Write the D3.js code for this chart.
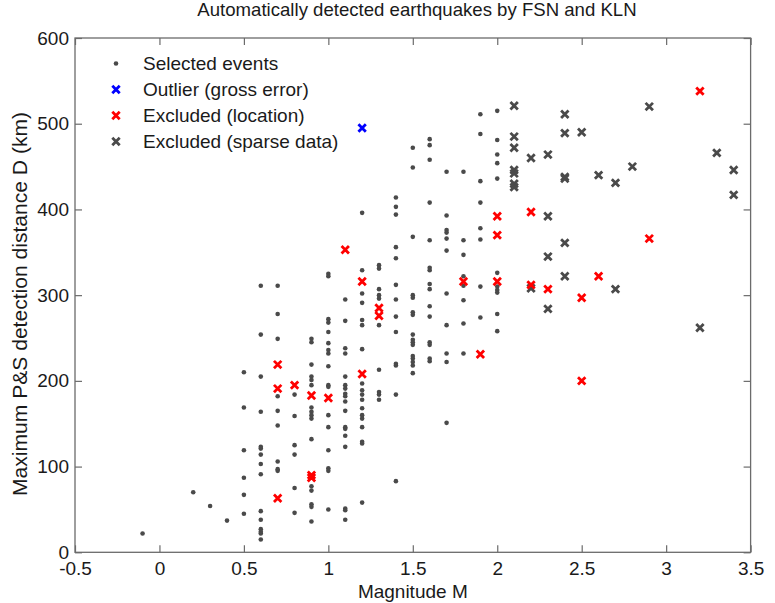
<!DOCTYPE html>
<html>
<head>
<meta charset="utf-8">
<script src="https://cdn.jsdelivr.net/npm/d3@7"></script>
<style>
    body { margin: 0; background: #fff; }
    text { font-family: Arial, "Liberation Sans", sans-serif; fill: #1a1a1a; }
</style>
</head>
<body>
<div id="chart"></div>
<script>
// [magnitude, max detection distance km]
var selectedEvents = [
    [-0.1, 22], [0.2, 70], [0.3, 54], [0.4, 37],
    [0.5, 210], [0.5, 169], [0.5, 119], [0.5, 87], [0.5, 67], [0.5, 45],
    [0.6, 311], [0.6, 254], [0.6, 205], [0.6, 164], [0.6, 123], [0.6, 121], [0.6, 114], [0.6, 103],
    [0.6, 91], [0.6, 48], [0.6, 38], [0.6, 27], [0.6, 24], [0.6, 22], [0.6, 15],
    [0.7, 311], [0.7, 278], [0.7, 249], [0.7, 182], [0.7, 165], [0.7, 148], [0.7, 106], [0.7, 97], [0.7, 95],
    [0.8, 184], [0.8, 159], [0.8, 125], [0.8, 114], [0.8, 75], [0.8, 46],
    [0.9, 249], [0.9, 245], [0.9, 219], [0.9, 205], [0.9, 201], [0.9, 195], [0.9, 169], [0.9, 164],
    [0.9, 160], [0.9, 156], [0.9, 132], [0.9, 77], [0.9, 72], [0.9, 56], [0.9, 53], [0.9, 36],
    [1.0, 325], [1.0, 322], [1.0, 272], [1.0, 268], [1.0, 257], [1.0, 244], [1.0, 236], [1.0, 232],
    [1.0, 217], [1.0, 195], [1.0, 193], [1.0, 160], [1.0, 146], [1.0, 119], [1.0, 98], [1.0, 95], [1.0, 50],
    [1.1, 295], [1.1, 270], [1.1, 238], [1.1, 232], [1.1, 205], [1.1, 195], [1.1, 191], [1.1, 185], [1.1, 182],
    [1.1, 176], [1.1, 165], [1.1, 146], [1.1, 144], [1.1, 136], [1.1, 123], [1.1, 51], [1.1, 49], [1.1, 38],
    [1.2, 396], [1.2, 329], [1.2, 302], [1.2, 291], [1.2, 271], [1.2, 265], [1.2, 237], [1.2, 197], [1.2, 189],
    [1.2, 184], [1.2, 178], [1.2, 168], [1.2, 160], [1.2, 156], [1.2, 146], [1.2, 129], [1.2, 127], [1.2, 58],
    [1.3, 335], [1.3, 331], [1.3, 307], [1.3, 300], [1.3, 296], [1.3, 265], [1.3, 213], [1.3, 187], [1.3, 184], [1.3, 178],
    [1.4, 414], [1.4, 403], [1.4, 394], [1.4, 356], [1.4, 343], [1.4, 312], [1.4, 295], [1.4, 275], [1.4, 257],
    [1.4, 220], [1.4, 218], [1.4, 184], [1.4, 83],
    [1.5, 472], [1.5, 449], [1.5, 368], [1.5, 300], [1.5, 297], [1.5, 280], [1.5, 277], [1.5, 254], [1.5, 248],
    [1.5, 245], [1.5, 242], [1.5, 229], [1.5, 226], [1.5, 222], [1.5, 218], [1.5, 209],
    [1.6, 482], [1.6, 475], [1.6, 458], [1.6, 408], [1.6, 364], [1.6, 332], [1.6, 329], [1.6, 313], [1.6, 307],
    [1.6, 287], [1.6, 275], [1.6, 245], [1.6, 242], [1.6, 226], [1.6, 223],
    [1.7, 444], [1.7, 393], [1.7, 376], [1.7, 373], [1.7, 366], [1.7, 352], [1.7, 302], [1.7, 265], [1.7, 232],
    [1.7, 222], [1.7, 151],
    [1.8, 444], [1.8, 364], [1.8, 347], [1.8, 322], [1.8, 311], [1.8, 294], [1.8, 267], [1.8, 232],
    [1.9, 511], [1.9, 488], [1.9, 433], [1.9, 408], [1.9, 378], [1.9, 365], [1.9, 310], [1.9, 274],
    [2.0, 515], [2.0, 481], [2.0, 464], [2.0, 454], [2.0, 436], [2.0, 326], [2.0, 310], [2.0, 306],
    [2.0, 303], [2.0, 278], [2.0, 258]
];
var outliers = [[1.2, 495]];
var excludedLocation = [
    [0.7, 219], [0.7, 191], [0.7, 63], [0.8, 195], [0.9, 183], [0.9, 90], [0.9, 87], [1.0, 180],
    [1.1, 353], [1.2, 316], [1.2, 208], [1.3, 285], [1.3, 276], [1.8, 316], [1.9, 231],
    [2.0, 392], [2.0, 370], [2.0, 316], [2.2, 397], [2.2, 312], [2.3, 307], [2.5, 297], [2.5, 200],
    [2.6, 322], [2.9, 366], [3.2, 538]
];
var excludedSparse = [
    [2.1, 521], [2.1, 485], [2.1, 472], [2.1, 446], [2.1, 442], [2.1, 430], [2.1, 426],
    [2.2, 460], [2.2, 308], [2.3, 464], [2.3, 392], [2.3, 345], [2.3, 284],
    [2.4, 511], [2.4, 489], [2.4, 438], [2.4, 436], [2.4, 361], [2.4, 322],
    [2.5, 490], [2.6, 440], [2.7, 431], [2.7, 307], [2.8, 450], [2.9, 520],
    [3.2, 262], [3.3, 466], [3.4, 446], [3.4, 417]
];
var xTicks = [-0.5, 0, 0.5, 1, 1.5, 2, 2.5, 3, 3.5];
var yTicks = [0, 100, 200, 300, 400, 500, 600];
var legendLabels = ["Selected events", "Outlier (gross error)", "Excluded (location)", "Excluded (sparse data)"];

var width = 775, height = 603;
var plotLeft = 75, plotRight = 750.6, plotTop = 38, plotBottom = 552.3;
var axisColor = "#6b6b6b", dotColor = "#4a4a4a";

var svg = d3.select("#chart").append("svg")
    .attr("width", width)
    .attr("height", height);

var x = d3.scaleLinear().domain([-0.5, 3.5]).range([plotLeft, plotRight]);
var y = d3.scaleLinear().domain([0, 600]).range([plotBottom, plotTop]);

// 坐标轴 (inward ticks on all four sides)
function styleAxis(g) {
    g.select(".domain").remove();
    g.selectAll(".tick line").attr("stroke", axisColor).attr("stroke-width", 1.2);
    g.selectAll(".tick text").attr("font-size", 19).attr("fill", "#1a1a1a")
        .attr("font-family", "Arial, 'Liberation Sans', sans-serif");
}
svg.append("g")
    .attr("transform", translate(0, plotBottom))
    .call(d3.axisBottom(x).tickValues(xTicks).tickSizeInner(-7).tickPadding(9).tickFormat(d => String(d)))
    .call(styleAxis);
svg.append("g")
    .attr("transform", translate(0, plotTop))
    .call(d3.axisTop(x).tickValues(xTicks).tickSizeInner(-7).tickFormat(""))
    .call(styleAxis);
svg.append("g")
    .attr("transform", translate(plotLeft, 0))
    .call(d3.axisLeft(y).tickValues(yTicks).tickSizeInner(-7).tickPadding(6))
    .call(styleAxis);
svg.append("g")
    .attr("transform", translate(plotRight, 0))
    .call(d3.axisRight(y).tickValues(yTicks).tickSizeInner(-7).tickFormat(""))
    .call(styleAxis);
svg.append("rect")
    .attr("x", plotLeft).attr("y", plotTop)
    .attr("width", plotRight - plotLeft).attr("height", plotBottom - plotTop)
    .attr("fill", "none")
    .attr("stroke", axisColor)
    .attr("stroke-width", 1.3);

// 标题 + 轴标签
svg.append("text")
    .attr("x", 417).attr("y", 16)
    .attr("text-anchor", "middle")
    .attr("font-size", 18.6)
    .text("Automatically detected earthquakes by FSN and KLN");
svg.append("text")
    .attr("x", (plotLeft + plotRight) / 2).attr("y", 598)
    .attr("text-anchor", "middle")
    .attr("font-size", 19)
    .text("Magnitude M");
svg.append("text")
    .attr("transform", translate(27, 304) + " rotate(-90)")
    .attr("text-anchor", "middle")
    .attr("font-size", 19.5)
    .attr("textLength", 384)
    .attr("lengthAdjust", "spacingAndGlyphs")
    .text("Maximum P&S detection distance D (km)");

// markers
function drawDot(g, cx, cy) {
    g.append("circle").attr("cx", cx).attr("cy", cy).attr("r", 2.3).attr("fill", dotColor);
}
function drawCross(g, cx, cy, color) {
    var s = 3.7;
    g.append("path")
        .attr("d", `M${cx - s},${cy - s}L${cx + s},${cy + s}M${cx - s},${cy + s}L${cx + s},${cy - s}`)
        .attr("stroke", color)
        .attr("stroke-width", 2.8)
        .attr("fill", "none");
}

var pointGroup = svg.append("g");
selectedEvents.forEach(d => drawDot(pointGroup, x(d[0]), y(d[1])));
excludedSparse.forEach(d => drawCross(pointGroup, x(d[0]), y(d[1]), dotColor));
excludedLocation.forEach(d => drawCross(pointGroup, x(d[0]), y(d[1]), "#ff0000"));
outliers.forEach(d => drawCross(pointGroup, x(d[0]), y(d[1]), "#0000ff"));

// legend
var legendColors = [null, "#0000ff", "#ff0000", dotColor];
var legendGroup = svg.append("g");
legendLabels.forEach(function (label, i) {
    var ly = 63.5 + i * 26;
    if (i === 0) drawDot(legendGroup, 116, ly);
    else drawCross(legendGroup, 116, ly, legendColors[i]);
    legendGroup.append("text")
        .attr("x", 143).attr("y", ly)
        .attr("dominant-baseline", "central")
        .attr("font-size", 19)
        .text(label);
});

function translate(x, y) {
    return `translate(${x}, ${y})`;
}
</script>
</body>
</html>
